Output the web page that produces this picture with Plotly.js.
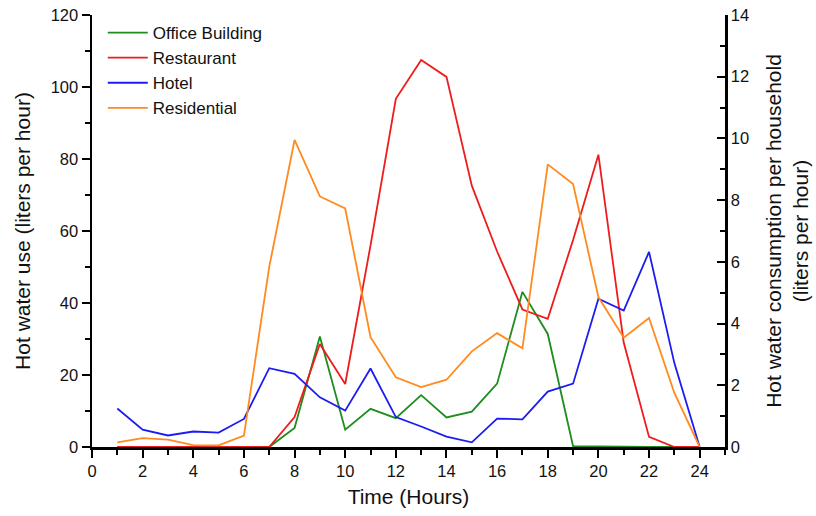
<!DOCTYPE html>
<html>
<head>
<meta charset="utf-8">
<script src="https://cdn.plot.ly/plotly-3.0.1.min.js"></script>
<style>
  html, body { margin: 0; padding: 0; background: #fff; }
  #chart { width: 816px; height: 516px; }
</style>
</head>
<body>
<div id="chart"></div>
<script>
const hours = [1,2,3,4,5,6,7,8,9,10,11,12,13,14,15,16,17,18,19,20,21,22,23,24];
const officeBuilding = [0,0,0,0,0,0,0,5.3,30.7,4.8,10.6,8.0,14.4,8.2,9.8,17.6,43.1,31.4,0.2,0.2,0,0,0,0];
const restaurant = [0,0,0,0,0,0,0,8.3,28.6,17.5,56,96.7,107.5,102.8,72.6,54.3,38.2,35.6,57.5,81.2,29,2.8,0,0];
const hotel = [10.7,4.8,3.2,4.3,4.0,7.8,21.9,20.3,13.8,10.1,21.8,8.3,5.7,2.9,1.3,7.9,7.7,15.4,17.6,41.2,37.9,54.2,23.3,0];
const residential = [0.15,0.29,0.24,0.06,0.05,0.37,5.84,9.95,8.12,7.73,3.56,2.26,1.94,2.18,3.10,3.69,3.20,9.16,8.52,4.86,3.54,4.18,1.75,0];
const seriesNames = ["Office Building","Restaurant","Hotel","Residential"];
const seriesColors = ["#1e8c1e","#ee1c1c","#1c1cf0","#ff8a1f"];

const font = "Liberation Sans, Arial, sans-serif";
const traces = [
  {x: hours, y: officeBuilding, name: seriesNames[0], line: {color: seriesColors[0], width: 1.8}},
  {x: hours, y: restaurant, name: seriesNames[1], line: {color: seriesColors[1], width: 1.8}},
  {x: hours, y: hotel, name: seriesNames[2], line: {color: seriesColors[2], width: 1.8}},
  {x: hours, y: residential, name: seriesNames[3], yaxis: "y2", line: {color: seriesColors[3], width: 1.8}}
].map(t => Object.assign({type: "scatter", mode: "lines", cliponaxis: false}, t));

const layout = {
  width: 816, height: 516,
  margin: {l: 92, r: 91, t: 15, b: 69},
  paper_bgcolor: "#fff", plot_bgcolor: "#fff",
  font: {family: font, size: 16, color: "#111"},
  showlegend: true,
  legend: {x: 0.017, y: 1, xanchor: "left", yanchor: "top", bgcolor: "rgba(0,0,0,0)",
           font: {family: font, size: 17, color: "#111"}, tracegroupgap: 0, itemwidth: 40},
  xaxis: {
    range: [0, 25], dtick: 2, tick0: 0, showgrid: false, zeroline: false,
    showline: true, linecolor: "#000", linewidth: 2.5,
    ticks: "outside", ticklen: 8, tickwidth: 2, tickcolor: "#000",
    minor: {dtick: 1, ticklen: 5, tickwidth: 2, tickcolor: "#000", showgrid: false},
    tickfont: {family: font, size: 16.5, color: "#111"},
    title: {text: "Time (Hours)", font: {family: font, size: 21, color: "#111"}, standoff: 10}
  },
  yaxis: {
    range: [0, 120], dtick: 20, showgrid: false, zeroline: false,
    showline: true, linecolor: "#000", linewidth: 2.5,
    ticks: "outside", ticklen: 8, tickwidth: 2, tickcolor: "#000",
    minor: {dtick: 10, ticklen: 5, tickwidth: 2, tickcolor: "#000", showgrid: false},
    tickfont: {family: font, size: 16.5, color: "#111"},
    title: {text: "Hot water use (liters per hour)", font: {family: font, size: 21, color: "#111"}, standoff: 15}
  },
  yaxis2: {
    overlaying: "y", side: "right", anchor: "x",
    range: [0, 14], dtick: 2, showgrid: false, zeroline: false,
    showline: true, linecolor: "#000", linewidth: 2.5,
    ticks: "inside", ticklen: 8, tickwidth: 2, tickcolor: "#000",
    minor: {dtick: 1, ticklen: 5, tickwidth: 2, tickcolor: "#000", showgrid: false, ticks: "inside"},
    tickfont: {family: font, size: 16.5, color: "#111"},
    title: {text: "Hot water consumption per household<br>(liters per hour)", font: {family: font, size: 21, color: "#111"}, standoff: 18}
  }
};

Plotly.newPlot("chart", traces, layout, {displayModeBar: false, staticPlot: true});
</script>
</body>
</html>
